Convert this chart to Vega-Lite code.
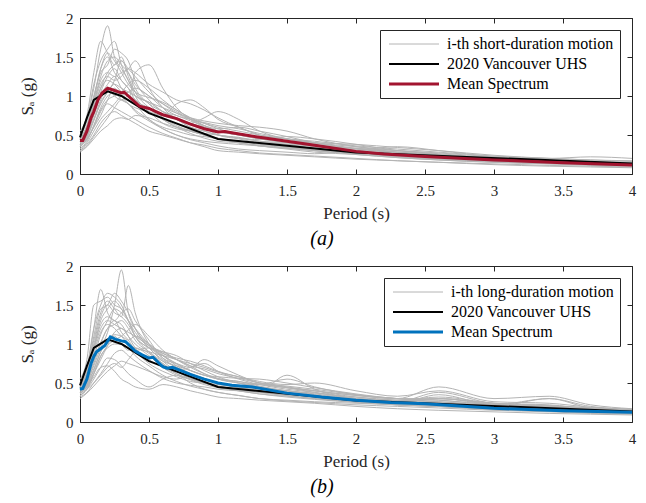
{
"$schema": "https://vega.github.io/schema/vega-lite/v6.json",
"padding": {"left": 17, "top": 10, "right": 8, "bottom": 0},
"background": "white",
"config": {
  "font": "Liberation Serif",
  "view": {"stroke": "#262626", "strokeWidth": 1},
  "style": {"guide-label": {"font": "Liberation Serif"}, "guide-title": {"font": "Liberation Serif"}},
  "axis": {"grid": false, "domain": false, "tickColor": "#262626", "tickSize": -5, "labelFont": "Liberation Serif", "labelFontSize": 15, "labelColor": "#262626", "labelFlush": false, "labelOverlap": false, "format": "~g", "titleFont": "Liberation Serif", "titleFontSize": 17, "titleFontWeight": "normal", "titleColor": "#262626"},
  "legend": {"orient": "top-right", "offset": 12, "padding": 6, "strokeColor": "#262626", "fillColor": "white", "labelFont": "Liberation Serif", "labelFontSize": 16, "labelColor": "#000000", "symbolType": "M-1,0H9", "symbolSize": 100, "labelOffset": 45, "labelLimit": 400, "rowPadding": 4},
  "title": {"font": "Liberation Serif"}
},
"datasets": {
"uhs": [{"T":0,"v":0.47},{"T":0.05,"v":0.72},{"T":0.1,"v":0.95},{"T":0.2,"v":1.06},{"T":0.3,"v":1.0},{"T":0.5,"v":0.78},{"T":1,"v":0.45},{"T":2,"v":0.275},{"T":4,"v":0.135}],
"ma": [{"T":0,"v":0.43},{"T":0.02,"v":0.43},{"T":0.05,"v":0.55},{"T":0.08,"v":0.72},{"T":0.1,"v":0.8},{"T":0.13,"v":0.95},{"T":0.16,"v":1.04},{"T":0.2,"v":1.1},{"T":0.25,"v":1.07},{"T":0.3,"v":1.04},{"T":0.32,"v":1.05},{"T":0.35,"v":1.0},{"T":0.4,"v":0.92},{"T":0.43,"v":0.87},{"T":0.5,"v":0.84},{"T":0.55,"v":0.8},{"T":0.6,"v":0.76},{"T":0.7,"v":0.71},{"T":0.8,"v":0.64},{"T":0.9,"v":0.58},{"T":1,"v":0.54},{"T":1.05,"v":0.545},{"T":1.1,"v":0.53},{"T":1.3,"v":0.47},{"T":1.5,"v":0.42},{"T":1.7,"v":0.37},{"T":2,"v":0.29},{"T":2.2,"v":0.255},{"T":2.5,"v":0.225},{"T":3,"v":0.18},{"T":3.5,"v":0.145},{"T":4,"v":0.115}],
"mb": [{"T":0,"v":0.42},{"T":0.02,"v":0.43},{"T":0.05,"v":0.55},{"T":0.08,"v":0.75},{"T":0.1,"v":0.84},{"T":0.12,"v":0.9},{"T":0.15,"v":0.94},{"T":0.18,"v":0.98},{"T":0.22,"v":1.09},{"T":0.26,"v":1.06},{"T":0.3,"v":1.04},{"T":0.33,"v":1.03},{"T":0.36,"v":0.98},{"T":0.4,"v":0.91},{"T":0.45,"v":0.86},{"T":0.5,"v":0.82},{"T":0.53,"v":0.83},{"T":0.57,"v":0.76},{"T":0.6,"v":0.71},{"T":0.63,"v":0.69},{"T":0.67,"v":0.7},{"T":0.7,"v":0.68},{"T":0.8,"v":0.61},{"T":0.9,"v":0.55},{"T":1,"v":0.5},{"T":1.1,"v":0.47},{"T":1.25,"v":0.45},{"T":1.5,"v":0.37},{"T":1.75,"v":0.32},{"T":2,"v":0.28},{"T":2.25,"v":0.25},{"T":2.5,"v":0.235},{"T":3,"v":0.175},{"T":3.5,"v":0.145},{"T":4,"v":0.125}],
"ga": [
{"g":1,"T":0,"v":0.45},{"g":1,"T":0.05,"v":0.6},{"g":1,"T":0.1,"v":0.95},{"g":1,"T":0.15,"v":1.35},{"g":1,"T":0.2,"v":1.5},{"g":1,"T":0.25,"v":1.3},{"g":1,"T":0.3,"v":1.2},{"g":1,"T":0.35,"v":1.1},{"g":1,"T":0.4,"v":0.95},{"g":1,"T":0.5,"v":0.85},{"g":1,"T":0.6,"v":0.75},{"g":1,"T":0.7,"v":0.7},{"g":1,"T":0.8,"v":0.6},{"g":1,"T":0.9,"v":0.55},{"g":1,"T":1,"v":0.5},{"g":1,"T":1.15,"v":0.47},{"g":1,"T":1.3,"v":0.42},{"g":1,"T":1.5,"v":0.4},{"g":1,"T":1.7,"v":0.35},{"g":1,"T":2,"v":0.3},{"g":1,"T":2.3,"v":0.25},{"g":1,"T":2.6,"v":0.22},{"g":1,"T":3,"v":0.18},{"g":1,"T":3.4,"v":0.15},{"g":1,"T":3.7,"v":0.13},{"g":1,"T":4,"v":0.12},
{"g":2,"T":0,"v":0.38},{"g":2,"T":0.05,"v":0.5},{"g":2,"T":0.1,"v":0.7},{"g":2,"T":0.15,"v":0.9},{"g":2,"T":0.2,"v":1.05},{"g":2,"T":0.25,"v":1.2},{"g":2,"T":0.3,"v":1.45},{"g":2,"T":0.35,"v":1.3},{"g":2,"T":0.4,"v":1.1},{"g":2,"T":0.5,"v":0.9},{"g":2,"T":0.6,"v":0.8},{"g":2,"T":0.7,"v":0.72},{"g":2,"T":0.8,"v":0.65},{"g":2,"T":0.9,"v":0.6},{"g":2,"T":1,"v":0.55},{"g":2,"T":1.15,"v":0.5},{"g":2,"T":1.3,"v":0.45},{"g":2,"T":1.5,"v":0.42},{"g":2,"T":1.7,"v":0.38},{"g":2,"T":2,"v":0.3},{"g":2,"T":2.3,"v":0.26},{"g":2,"T":2.6,"v":0.22},{"g":2,"T":3,"v":0.18},{"g":2,"T":3.4,"v":0.16},{"g":2,"T":3.7,"v":0.14},{"g":2,"T":4,"v":0.12},
{"g":3,"T":0,"v":0.5},{"g":3,"T":0.05,"v":0.7},{"g":3,"T":0.1,"v":1.1},{"g":3,"T":0.15,"v":1.6},{"g":3,"T":0.2,"v":1.9},{"g":3,"T":0.25,"v":1.5},{"g":3,"T":0.3,"v":1.35},{"g":3,"T":0.35,"v":1.2},{"g":3,"T":0.4,"v":1.0},{"g":3,"T":0.5,"v":0.8},{"g":3,"T":0.6,"v":0.7},{"g":3,"T":0.7,"v":0.6},{"g":3,"T":0.8,"v":0.55},{"g":3,"T":0.9,"v":0.5},{"g":3,"T":1,"v":0.45},{"g":3,"T":1.15,"v":0.42},{"g":3,"T":1.3,"v":0.38},{"g":3,"T":1.5,"v":0.35},{"g":3,"T":1.7,"v":0.3},{"g":3,"T":2,"v":0.26},{"g":3,"T":2.3,"v":0.22},{"g":3,"T":2.6,"v":0.2},{"g":3,"T":3,"v":0.17},{"g":3,"T":3.4,"v":0.14},{"g":3,"T":3.7,"v":0.12},{"g":3,"T":4,"v":0.11},
{"g":4,"T":0,"v":0.3},{"g":4,"T":0.05,"v":0.38},{"g":4,"T":0.1,"v":0.5},{"g":4,"T":0.15,"v":0.65},{"g":4,"T":0.2,"v":0.75},{"g":4,"T":0.25,"v":0.8},{"g":4,"T":0.3,"v":0.75},{"g":4,"T":0.35,"v":0.7},{"g":4,"T":0.4,"v":0.65},{"g":4,"T":0.5,"v":0.55},{"g":4,"T":0.6,"v":0.5},{"g":4,"T":0.7,"v":0.45},{"g":4,"T":0.8,"v":0.4},{"g":4,"T":0.9,"v":0.37},{"g":4,"T":1,"v":0.33},{"g":4,"T":1.15,"v":0.3},{"g":4,"T":1.3,"v":0.27},{"g":4,"T":1.5,"v":0.25},{"g":4,"T":1.7,"v":0.23},{"g":4,"T":2,"v":0.2},{"g":4,"T":2.3,"v":0.17},{"g":4,"T":2.6,"v":0.15},{"g":4,"T":3,"v":0.13},{"g":4,"T":3.4,"v":0.11},{"g":4,"T":3.7,"v":0.1},{"g":4,"T":4,"v":0.09},
{"g":5,"T":0,"v":0.42},{"g":5,"T":0.05,"v":0.55},{"g":5,"T":0.1,"v":0.85},{"g":5,"T":0.15,"v":1.1},{"g":5,"T":0.2,"v":1.2},{"g":5,"T":0.25,"v":1.15},{"g":5,"T":0.3,"v":1.05},{"g":5,"T":0.35,"v":0.95},{"g":5,"T":0.4,"v":1.3},{"g":5,"T":0.5,"v":1.4},{"g":5,"T":0.6,"v":1.1},{"g":5,"T":0.7,"v":0.85},{"g":5,"T":0.8,"v":0.7},{"g":5,"T":0.9,"v":0.6},{"g":5,"T":1,"v":0.5},{"g":5,"T":1.15,"v":0.45},{"g":5,"T":1.3,"v":0.4},{"g":5,"T":1.5,"v":0.35},{"g":5,"T":1.7,"v":0.32},{"g":5,"T":2,"v":0.28},{"g":5,"T":2.3,"v":0.25},{"g":5,"T":2.6,"v":0.21},{"g":5,"T":3,"v":0.18},{"g":5,"T":3.4,"v":0.15},{"g":5,"T":3.7,"v":0.13},{"g":5,"T":4,"v":0.12},
{"g":6,"T":0,"v":0.35},{"g":6,"T":0.05,"v":0.45},{"g":6,"T":0.1,"v":0.6},{"g":6,"T":0.15,"v":0.75},{"g":6,"T":0.2,"v":0.95},{"g":6,"T":0.25,"v":1.1},{"g":6,"T":0.3,"v":1.0},{"g":6,"T":0.35,"v":0.9},{"g":6,"T":0.4,"v":0.85},{"g":6,"T":0.5,"v":0.8},{"g":6,"T":0.6,"v":0.75},{"g":6,"T":0.7,"v":0.9},{"g":6,"T":0.8,"v":0.95},{"g":6,"T":0.9,"v":0.85},{"g":6,"T":1,"v":0.7},{"g":6,"T":1.15,"v":0.6},{"g":6,"T":1.3,"v":0.5},{"g":6,"T":1.5,"v":0.45},{"g":6,"T":1.7,"v":0.4},{"g":6,"T":2,"v":0.33},{"g":6,"T":2.3,"v":0.28},{"g":6,"T":2.6,"v":0.24},{"g":6,"T":3,"v":0.2},{"g":6,"T":3.4,"v":0.17},{"g":6,"T":3.7,"v":0.15},{"g":6,"T":4,"v":0.13},
{"g":7,"T":0,"v":0.55},{"g":7,"T":0.05,"v":0.75},{"g":7,"T":0.1,"v":1.3},{"g":7,"T":0.15,"v":1.7},{"g":7,"T":0.2,"v":1.55},{"g":7,"T":0.25,"v":1.4},{"g":7,"T":0.3,"v":1.5},{"g":7,"T":0.35,"v":1.25},{"g":7,"T":0.4,"v":1.05},{"g":7,"T":0.5,"v":0.85},{"g":7,"T":0.6,"v":0.7},{"g":7,"T":0.7,"v":0.6},{"g":7,"T":0.8,"v":0.52},{"g":7,"T":0.9,"v":0.46},{"g":7,"T":1,"v":0.42},{"g":7,"T":1.15,"v":0.4},{"g":7,"T":1.3,"v":0.36},{"g":7,"T":1.5,"v":0.32},{"g":7,"T":1.7,"v":0.28},{"g":7,"T":2,"v":0.25},{"g":7,"T":2.3,"v":0.21},{"g":7,"T":2.6,"v":0.18},{"g":7,"T":3,"v":0.15},{"g":7,"T":3.4,"v":0.13},{"g":7,"T":3.7,"v":0.11},{"g":7,"T":4,"v":0.1},
{"g":8,"T":0,"v":0.4},{"g":8,"T":0.05,"v":0.5},{"g":8,"T":0.1,"v":0.75},{"g":8,"T":0.15,"v":1.0},{"g":8,"T":0.2,"v":1.15},{"g":8,"T":0.25,"v":1.25},{"g":8,"T":0.3,"v":1.1},{"g":8,"T":0.35,"v":1.0},{"g":8,"T":0.4,"v":0.9},{"g":8,"T":0.5,"v":0.7},{"g":8,"T":0.6,"v":0.6},{"g":8,"T":0.7,"v":0.55},{"g":8,"T":0.8,"v":0.5},{"g":8,"T":0.9,"v":0.48},{"g":8,"T":1,"v":0.45},{"g":8,"T":1.15,"v":0.4},{"g":8,"T":1.3,"v":0.36},{"g":8,"T":1.5,"v":0.33},{"g":8,"T":1.7,"v":0.3},{"g":8,"T":2,"v":0.26},{"g":8,"T":2.3,"v":0.23},{"g":8,"T":2.6,"v":0.2},{"g":8,"T":3,"v":0.17},{"g":8,"T":3.4,"v":0.14},{"g":8,"T":3.7,"v":0.12},{"g":8,"T":4,"v":0.11},
{"g":9,"T":0,"v":0.32},{"g":9,"T":0.05,"v":0.4},{"g":9,"T":0.1,"v":0.55},{"g":9,"T":0.15,"v":0.7},{"g":9,"T":0.2,"v":0.8},{"g":9,"T":0.25,"v":0.9},{"g":9,"T":0.3,"v":1.0},{"g":9,"T":0.35,"v":1.05},{"g":9,"T":0.4,"v":1.1},{"g":9,"T":0.5,"v":1.0},{"g":9,"T":0.6,"v":0.85},{"g":9,"T":0.7,"v":0.75},{"g":9,"T":0.8,"v":0.7},{"g":9,"T":0.9,"v":0.65},{"g":9,"T":1,"v":0.6},{"g":9,"T":1.15,"v":0.55},{"g":9,"T":1.3,"v":0.5},{"g":9,"T":1.5,"v":0.45},{"g":9,"T":1.7,"v":0.4},{"g":9,"T":2,"v":0.32},{"g":9,"T":2.3,"v":0.28},{"g":9,"T":2.6,"v":0.25},{"g":9,"T":3,"v":0.2},{"g":9,"T":3.4,"v":0.17},{"g":9,"T":3.7,"v":0.15},{"g":9,"T":4,"v":0.14},
{"g":10,"T":0,"v":0.48},{"g":10,"T":0.05,"v":0.62},{"g":10,"T":0.1,"v":1.0},{"g":10,"T":0.15,"v":1.3},{"g":10,"T":0.2,"v":1.4},{"g":10,"T":0.25,"v":1.6},{"g":10,"T":0.3,"v":1.55},{"g":10,"T":0.35,"v":1.45},{"g":10,"T":0.4,"v":1.2},{"g":10,"T":0.5,"v":0.95},{"g":10,"T":0.6,"v":0.8},{"g":10,"T":0.7,"v":0.7},{"g":10,"T":0.8,"v":0.6},{"g":10,"T":0.9,"v":0.55},{"g":10,"T":1,"v":0.5},{"g":10,"T":1.15,"v":0.46},{"g":10,"T":1.3,"v":0.42},{"g":10,"T":1.5,"v":0.38},{"g":10,"T":1.7,"v":0.33},{"g":10,"T":2,"v":0.28},{"g":10,"T":2.3,"v":0.24},{"g":10,"T":2.6,"v":0.2},{"g":10,"T":3,"v":0.17},{"g":10,"T":3.4,"v":0.15},{"g":10,"T":3.7,"v":0.13},{"g":10,"T":4,"v":0.12},
{"g":11,"T":0,"v":0.36},{"g":11,"T":0.05,"v":0.45},{"g":11,"T":0.1,"v":0.6},{"g":11,"T":0.15,"v":0.8},{"g":11,"T":0.2,"v":0.9},{"g":11,"T":0.25,"v":0.85},{"g":11,"T":0.3,"v":0.8},{"g":11,"T":0.35,"v":0.75},{"g":11,"T":0.4,"v":0.7},{"g":11,"T":0.5,"v":0.6},{"g":11,"T":0.6,"v":0.52},{"g":11,"T":0.7,"v":0.46},{"g":11,"T":0.8,"v":0.4},{"g":11,"T":0.9,"v":0.35},{"g":11,"T":1,"v":0.3},{"g":11,"T":1.15,"v":0.28},{"g":11,"T":1.3,"v":0.26},{"g":11,"T":1.5,"v":0.24},{"g":11,"T":1.7,"v":0.22},{"g":11,"T":2,"v":0.19},{"g":11,"T":2.3,"v":0.17},{"g":11,"T":2.6,"v":0.15},{"g":11,"T":3,"v":0.12},{"g":11,"T":3.4,"v":0.1},{"g":11,"T":3.7,"v":0.09},{"g":11,"T":4,"v":0.08},
{"g":12,"T":0,"v":0.44},{"g":12,"T":0.05,"v":0.58},{"g":12,"T":0.1,"v":0.9},{"g":12,"T":0.15,"v":1.2},{"g":12,"T":0.2,"v":1.3},{"g":12,"T":0.25,"v":1.25},{"g":12,"T":0.3,"v":1.3},{"g":12,"T":0.35,"v":1.35},{"g":12,"T":0.4,"v":1.45},{"g":12,"T":0.5,"v":1.1},{"g":12,"T":0.6,"v":0.85},{"g":12,"T":0.7,"v":0.7},{"g":12,"T":0.8,"v":0.65},{"g":12,"T":0.9,"v":0.72},{"g":12,"T":1,"v":0.8},{"g":12,"T":1.15,"v":0.7},{"g":12,"T":1.3,"v":0.55},{"g":12,"T":1.5,"v":0.45},{"g":12,"T":1.7,"v":0.4},{"g":12,"T":2,"v":0.35},{"g":12,"T":2.3,"v":0.3},{"g":12,"T":2.6,"v":0.26},{"g":12,"T":3,"v":0.21},{"g":12,"T":3.4,"v":0.18},{"g":12,"T":3.7,"v":0.16},{"g":12,"T":4,"v":0.14},
{"g":13,"T":0,"v":0.28},{"g":13,"T":0.05,"v":0.35},{"g":13,"T":0.1,"v":0.45},{"g":13,"T":0.15,"v":0.55},{"g":13,"T":0.2,"v":0.62},{"g":13,"T":0.25,"v":0.7},{"g":13,"T":0.3,"v":0.72},{"g":13,"T":0.35,"v":0.7},{"g":13,"T":0.4,"v":0.75},{"g":13,"T":0.5,"v":0.72},{"g":13,"T":0.6,"v":0.65},{"g":13,"T":0.7,"v":0.6},{"g":13,"T":0.8,"v":0.56},{"g":13,"T":0.9,"v":0.52},{"g":13,"T":1,"v":0.5},{"g":13,"T":1.15,"v":0.46},{"g":13,"T":1.3,"v":0.44},{"g":13,"T":1.5,"v":0.48},{"g":13,"T":1.7,"v":0.45},{"g":13,"T":2,"v":0.38},{"g":13,"T":2.3,"v":0.3},{"g":13,"T":2.6,"v":0.25},{"g":13,"T":3,"v":0.2},{"g":13,"T":3.4,"v":0.17},{"g":13,"T":3.7,"v":0.15},{"g":13,"T":4,"v":0.13},
{"g":14,"T":0,"v":0.5},{"g":14,"T":0.05,"v":0.68},{"g":14,"T":0.1,"v":1.15},{"g":14,"T":0.15,"v":1.45},{"g":14,"T":0.2,"v":1.6},{"g":14,"T":0.25,"v":1.7},{"g":14,"T":0.3,"v":1.4},{"g":14,"T":0.35,"v":1.2},{"g":14,"T":0.4,"v":1.05},{"g":14,"T":0.5,"v":0.9},{"g":14,"T":0.6,"v":0.72},{"g":14,"T":0.7,"v":0.62},{"g":14,"T":0.8,"v":0.55},{"g":14,"T":0.9,"v":0.5},{"g":14,"T":1,"v":0.45},{"g":14,"T":1.15,"v":0.4},{"g":14,"T":1.3,"v":0.37},{"g":14,"T":1.5,"v":0.34},{"g":14,"T":1.7,"v":0.31},{"g":14,"T":2,"v":0.27},{"g":14,"T":2.3,"v":0.23},{"g":14,"T":2.6,"v":0.2},{"g":14,"T":3,"v":0.17},{"g":14,"T":3.4,"v":0.14},{"g":14,"T":3.7,"v":0.12},{"g":14,"T":4,"v":0.11},
{"g":15,"T":0,"v":0.4},{"g":15,"T":0.05,"v":0.52},{"g":15,"T":0.1,"v":0.78},{"g":15,"T":0.15,"v":1.05},{"g":15,"T":0.2,"v":1.25},{"g":15,"T":0.25,"v":1.35},{"g":15,"T":0.3,"v":1.2},{"g":15,"T":0.35,"v":1.1},{"g":15,"T":0.4,"v":1.0},{"g":15,"T":0.5,"v":0.92},{"g":15,"T":0.6,"v":0.8},{"g":15,"T":0.7,"v":0.75},{"g":15,"T":0.8,"v":0.68},{"g":15,"T":0.9,"v":0.62},{"g":15,"T":1,"v":0.58},{"g":15,"T":1.15,"v":0.6},{"g":15,"T":1.3,"v":0.55},{"g":15,"T":1.5,"v":0.48},{"g":15,"T":1.7,"v":0.4},{"g":15,"T":2,"v":0.32},{"g":15,"T":2.3,"v":0.27},{"g":15,"T":2.6,"v":0.23},{"g":15,"T":3,"v":0.19},{"g":15,"T":3.4,"v":0.16},{"g":15,"T":3.7,"v":0.14},{"g":15,"T":4,"v":0.13},
{"g":16,"T":0,"v":0.33},{"g":16,"T":0.05,"v":0.42},{"g":16,"T":0.1,"v":0.62},{"g":16,"T":0.15,"v":0.85},{"g":16,"T":0.2,"v":1.0},{"g":16,"T":0.25,"v":1.05},{"g":16,"T":0.3,"v":0.95},{"g":16,"T":0.35,"v":0.9},{"g":16,"T":0.4,"v":0.8},{"g":16,"T":0.5,"v":0.68},{"g":16,"T":0.6,"v":0.58},{"g":16,"T":0.7,"v":0.5},{"g":16,"T":0.8,"v":0.44},{"g":16,"T":0.9,"v":0.4},{"g":16,"T":1,"v":0.36},{"g":16,"T":1.15,"v":0.32},{"g":16,"T":1.3,"v":0.3},{"g":16,"T":1.5,"v":0.28},{"g":16,"T":1.7,"v":0.26},{"g":16,"T":2,"v":0.3},{"g":16,"T":2.3,"v":0.35},{"g":16,"T":2.6,"v":0.3},{"g":16,"T":3,"v":0.22},{"g":16,"T":3.4,"v":0.18},{"g":16,"T":3.7,"v":0.16},{"g":16,"T":4,"v":0.15},
{"g":17,"T":0,"v":0.46},{"g":17,"T":0.05,"v":0.6},{"g":17,"T":0.1,"v":0.92},{"g":17,"T":0.15,"v":1.25},{"g":17,"T":0.2,"v":1.45},{"g":17,"T":0.25,"v":1.5},{"g":17,"T":0.3,"v":1.4},{"g":17,"T":0.35,"v":1.3},{"g":17,"T":0.4,"v":1.15},{"g":17,"T":0.5,"v":1.0},{"g":17,"T":0.6,"v":0.9},{"g":17,"T":0.7,"v":0.8},{"g":17,"T":0.8,"v":0.7},{"g":17,"T":0.9,"v":0.62},{"g":17,"T":1,"v":0.55},{"g":17,"T":1.15,"v":0.5},{"g":17,"T":1.3,"v":0.45},{"g":17,"T":1.5,"v":0.4},{"g":17,"T":1.7,"v":0.35},{"g":17,"T":2,"v":0.28},{"g":17,"T":2.3,"v":0.22},{"g":17,"T":2.6,"v":0.19},{"g":17,"T":3,"v":0.16},{"g":17,"T":3.4,"v":0.14},{"g":17,"T":3.7,"v":0.12},{"g":17,"T":4,"v":0.11},
{"g":18,"T":0,"v":0.38},{"g":18,"T":0.05,"v":0.48},{"g":18,"T":0.1,"v":0.7},{"g":18,"T":0.15,"v":0.95},{"g":18,"T":0.2,"v":1.1},{"g":18,"T":0.25,"v":1.0},{"g":18,"T":0.3,"v":0.95},{"g":18,"T":0.35,"v":1.0},{"g":18,"T":0.4,"v":0.95},{"g":18,"T":0.5,"v":0.8},{"g":18,"T":0.6,"v":0.65},{"g":18,"T":0.7,"v":0.58},{"g":18,"T":0.8,"v":0.55},{"g":18,"T":0.9,"v":0.5},{"g":18,"T":1,"v":0.46},{"g":18,"T":1.15,"v":0.42},{"g":18,"T":1.3,"v":0.4},{"g":18,"T":1.5,"v":0.38},{"g":18,"T":1.7,"v":0.36},{"g":18,"T":2,"v":0.33},{"g":18,"T":2.3,"v":0.3},{"g":18,"T":2.6,"v":0.27},{"g":18,"T":3,"v":0.22},{"g":18,"T":3.4,"v":0.2},{"g":18,"T":3.7,"v":0.22},{"g":18,"T":4,"v":0.2},
{"g":19,"T":0,"v":0.42},{"g":19,"T":0.05,"v":0.55},{"g":19,"T":0.1,"v":0.8},{"g":19,"T":0.15,"v":1.1},{"g":19,"T":0.2,"v":1.3},{"g":19,"T":0.25,"v":1.4},{"g":19,"T":0.3,"v":1.45},{"g":19,"T":0.35,"v":1.35},{"g":19,"T":0.4,"v":1.25},{"g":19,"T":0.5,"v":1.05},{"g":19,"T":0.6,"v":0.9},{"g":19,"T":0.7,"v":0.78},{"g":19,"T":0.8,"v":0.7},{"g":19,"T":0.9,"v":0.66},{"g":19,"T":1,"v":0.62},{"g":19,"T":1.15,"v":0.58},{"g":19,"T":1.3,"v":0.52},{"g":19,"T":1.5,"v":0.45},{"g":19,"T":1.7,"v":0.38},{"g":19,"T":2,"v":0.3},{"g":19,"T":2.3,"v":0.25},{"g":19,"T":2.6,"v":0.21},{"g":19,"T":3,"v":0.17},{"g":19,"T":3.4,"v":0.15},{"g":19,"T":3.7,"v":0.13},{"g":19,"T":4,"v":0.12},
{"g":20,"T":0,"v":0.37},{"g":20,"T":0.05,"v":0.47},{"g":20,"T":0.1,"v":0.68},{"g":20,"T":0.15,"v":0.92},{"g":20,"T":0.2,"v":1.05},{"g":20,"T":0.25,"v":1.15},{"g":20,"T":0.3,"v":1.1},{"g":20,"T":0.35,"v":1.05},{"g":20,"T":0.4,"v":1.0},{"g":20,"T":0.5,"v":0.92},{"g":20,"T":0.6,"v":0.85},{"g":20,"T":0.7,"v":0.78},{"g":20,"T":0.8,"v":0.72},{"g":20,"T":0.9,"v":0.68},{"g":20,"T":1,"v":0.65},{"g":20,"T":1.15,"v":0.62},{"g":20,"T":1.3,"v":0.6},{"g":20,"T":1.5,"v":0.55},{"g":20,"T":1.7,"v":0.45},{"g":20,"T":2,"v":0.35},{"g":20,"T":2.3,"v":0.28},{"g":20,"T":2.6,"v":0.24},{"g":20,"T":3,"v":0.2},{"g":20,"T":3.4,"v":0.17},{"g":20,"T":3.7,"v":0.15},{"g":20,"T":4,"v":0.14},
{"g":21,"T":0,"v":0.44},{"g":21,"T":0.05,"v":0.58},{"g":21,"T":0.1,"v":0.88},{"g":21,"T":0.15,"v":1.15},{"g":21,"T":0.2,"v":1.25},{"g":21,"T":0.25,"v":1.2},{"g":21,"T":0.3,"v":1.25},{"g":21,"T":0.35,"v":1.35},{"g":21,"T":0.4,"v":1.3},{"g":21,"T":0.5,"v":1.15},{"g":21,"T":0.6,"v":1.05},{"g":21,"T":0.7,"v":0.95},{"g":21,"T":0.8,"v":0.9},{"g":21,"T":0.9,"v":0.82},{"g":21,"T":1,"v":0.72},{"g":21,"T":1.15,"v":0.6},{"g":21,"T":1.3,"v":0.5},{"g":21,"T":1.5,"v":0.42},{"g":21,"T":1.7,"v":0.36},{"g":21,"T":2,"v":0.3},{"g":21,"T":2.3,"v":0.26},{"g":21,"T":2.6,"v":0.22},{"g":21,"T":3,"v":0.19},{"g":21,"T":3.4,"v":0.16},{"g":21,"T":3.7,"v":0.14},{"g":21,"T":4,"v":0.13},
{"g":22,"T":0,"v":0.3},{"g":22,"T":0.05,"v":0.36},{"g":22,"T":0.1,"v":0.48},{"g":22,"T":0.15,"v":0.6},{"g":22,"T":0.2,"v":0.72},{"g":22,"T":0.25,"v":0.85},{"g":22,"T":0.3,"v":0.95},{"g":22,"T":0.35,"v":0.9},{"g":22,"T":0.4,"v":0.82},{"g":22,"T":0.5,"v":0.7},{"g":22,"T":0.6,"v":0.58},{"g":22,"T":0.7,"v":0.5},{"g":22,"T":0.8,"v":0.45},{"g":22,"T":0.9,"v":0.42},{"g":22,"T":1,"v":0.4},{"g":22,"T":1.15,"v":0.38},{"g":22,"T":1.3,"v":0.36},{"g":22,"T":1.5,"v":0.33},{"g":22,"T":1.7,"v":0.3},{"g":22,"T":2,"v":0.25},{"g":22,"T":2.3,"v":0.21},{"g":22,"T":2.6,"v":0.18},{"g":22,"T":3,"v":0.15},{"g":22,"T":3.4,"v":0.13},{"g":22,"T":3.7,"v":0.12},{"g":22,"T":4,"v":0.11},
{"g":23,"T":0,"v":0.47},{"g":23,"T":0.05,"v":0.62},{"g":23,"T":0.1,"v":0.98},{"g":23,"T":0.15,"v":1.35},{"g":23,"T":0.2,"v":1.55},{"g":23,"T":0.25,"v":1.45},{"g":23,"T":0.3,"v":1.3},{"g":23,"T":0.35,"v":1.15},{"g":23,"T":0.4,"v":1.05},{"g":23,"T":0.5,"v":0.98},{"g":23,"T":0.6,"v":0.92},{"g":23,"T":0.7,"v":0.82},{"g":23,"T":0.8,"v":0.72},{"g":23,"T":0.9,"v":0.65},{"g":23,"T":1,"v":0.58},{"g":23,"T":1.15,"v":0.52},{"g":23,"T":1.3,"v":0.48},{"g":23,"T":1.5,"v":0.45},{"g":23,"T":1.7,"v":0.42},{"g":23,"T":2,"v":0.36},{"g":23,"T":2.3,"v":0.32},{"g":23,"T":2.6,"v":0.28},{"g":23,"T":3,"v":0.23},{"g":23,"T":3.4,"v":0.2},{"g":23,"T":3.7,"v":0.18},{"g":23,"T":4,"v":0.16},
{"g":24,"T":0,"v":0.35},{"g":24,"T":0.05,"v":0.44},{"g":24,"T":0.1,"v":0.62},{"g":24,"T":0.15,"v":0.82},{"g":24,"T":0.2,"v":0.95},{"g":24,"T":0.25,"v":1.0},{"g":24,"T":0.3,"v":1.05},{"g":24,"T":0.35,"v":1.15},{"g":24,"T":0.4,"v":1.2},{"g":24,"T":0.5,"v":1.1},{"g":24,"T":0.6,"v":0.95},{"g":24,"T":0.7,"v":0.82},{"g":24,"T":0.8,"v":0.72},{"g":24,"T":0.9,"v":0.62},{"g":24,"T":1,"v":0.55},{"g":24,"T":1.15,"v":0.5},{"g":24,"T":1.3,"v":0.46},{"g":24,"T":1.5,"v":0.42},{"g":24,"T":1.7,"v":0.4},{"g":24,"T":2,"v":0.38},{"g":24,"T":2.3,"v":0.34},{"g":24,"T":2.6,"v":0.3},{"g":24,"T":3,"v":0.24},{"g":24,"T":3.4,"v":0.2},{"g":24,"T":3.7,"v":0.18},{"g":24,"T":4,"v":0.17}
],
"gb": [
{"g":1,"T":0,"v":0.45},{"g":1,"T":0.05,"v":0.65},{"g":1,"T":0.1,"v":1.2},{"g":1,"T":0.15,"v":1.7},{"g":1,"T":0.2,"v":1.4},{"g":1,"T":0.25,"v":1.3},{"g":1,"T":0.3,"v":1.25},{"g":1,"T":0.35,"v":1.1},{"g":1,"T":0.4,"v":0.95},{"g":1,"T":0.5,"v":0.8},{"g":1,"T":0.6,"v":0.7},{"g":1,"T":0.7,"v":0.62},{"g":1,"T":0.8,"v":0.55},{"g":1,"T":0.9,"v":0.5},{"g":1,"T":1,"v":0.46},{"g":1,"T":1.15,"v":0.42},{"g":1,"T":1.3,"v":0.38},{"g":1,"T":1.5,"v":0.34},{"g":1,"T":1.7,"v":0.3},{"g":1,"T":2,"v":0.26},{"g":1,"T":2.3,"v":0.23},{"g":1,"T":2.6,"v":0.2},{"g":1,"T":3,"v":0.17},{"g":1,"T":3.4,"v":0.14},{"g":1,"T":3.7,"v":0.13},{"g":1,"T":4,"v":0.12},
{"g":2,"T":0,"v":0.38},{"g":2,"T":0.05,"v":0.5},{"g":2,"T":0.1,"v":0.72},{"g":2,"T":0.15,"v":0.95},{"g":2,"T":0.2,"v":1.15},{"g":2,"T":0.25,"v":1.5},{"g":2,"T":0.3,"v":1.95},{"g":2,"T":0.35,"v":1.4},{"g":2,"T":0.4,"v":1.2},{"g":2,"T":0.5,"v":0.95},{"g":2,"T":0.6,"v":0.8},{"g":2,"T":0.7,"v":0.7},{"g":2,"T":0.8,"v":0.62},{"g":2,"T":0.9,"v":0.56},{"g":2,"T":1,"v":0.5},{"g":2,"T":1.15,"v":0.46},{"g":2,"T":1.3,"v":0.42},{"g":2,"T":1.5,"v":0.38},{"g":2,"T":1.7,"v":0.34},{"g":2,"T":2,"v":0.28},{"g":2,"T":2.3,"v":0.25},{"g":2,"T":2.6,"v":0.3},{"g":2,"T":3,"v":0.22},{"g":2,"T":3.4,"v":0.2},{"g":2,"T":3.7,"v":0.16},{"g":2,"T":4,"v":0.14},
{"g":3,"T":0,"v":0.5},{"g":3,"T":0.05,"v":0.68},{"g":3,"T":0.1,"v":1.05},{"g":3,"T":0.15,"v":1.4},{"g":3,"T":0.2,"v":1.55},{"g":3,"T":0.25,"v":1.45},{"g":3,"T":0.3,"v":1.35},{"g":3,"T":0.35,"v":1.75},{"g":3,"T":0.4,"v":1.4},{"g":3,"T":0.5,"v":1.0},{"g":3,"T":0.6,"v":0.82},{"g":3,"T":0.7,"v":0.7},{"g":3,"T":0.8,"v":0.6},{"g":3,"T":0.9,"v":0.55},{"g":3,"T":1,"v":0.5},{"g":3,"T":1.15,"v":0.44},{"g":3,"T":1.3,"v":0.4},{"g":3,"T":1.5,"v":0.36},{"g":3,"T":1.7,"v":0.32},{"g":3,"T":2,"v":0.27},{"g":3,"T":2.3,"v":0.24},{"g":3,"T":2.6,"v":0.35},{"g":3,"T":3,"v":0.22},{"g":3,"T":3.4,"v":0.3},{"g":3,"T":3.7,"v":0.18},{"g":3,"T":4,"v":0.15},
{"g":4,"T":0,"v":0.34},{"g":4,"T":0.05,"v":0.42},{"g":4,"T":0.1,"v":0.55},{"g":4,"T":0.15,"v":0.7},{"g":4,"T":0.2,"v":0.82},{"g":4,"T":0.25,"v":0.8},{"g":4,"T":0.3,"v":0.72},{"g":4,"T":0.35,"v":0.62},{"g":4,"T":0.4,"v":0.55},{"g":4,"T":0.5,"v":0.45},{"g":4,"T":0.6,"v":0.55},{"g":4,"T":0.7,"v":0.6},{"g":4,"T":0.8,"v":0.5},{"g":4,"T":0.9,"v":0.42},{"g":4,"T":1,"v":0.38},{"g":4,"T":1.15,"v":0.34},{"g":4,"T":1.3,"v":0.3},{"g":4,"T":1.5,"v":0.27},{"g":4,"T":1.7,"v":0.25},{"g":4,"T":2,"v":0.22},{"g":4,"T":2.3,"v":0.2},{"g":4,"T":2.6,"v":0.18},{"g":4,"T":3,"v":0.15},{"g":4,"T":3.4,"v":0.13},{"g":4,"T":3.7,"v":0.11},{"g":4,"T":4,"v":0.1},
{"g":5,"T":0,"v":0.42},{"g":5,"T":0.05,"v":0.56},{"g":5,"T":0.1,"v":0.88},{"g":5,"T":0.15,"v":1.15},{"g":5,"T":0.2,"v":1.25},{"g":5,"T":0.25,"v":1.2},{"g":5,"T":0.3,"v":1.1},{"g":5,"T":0.35,"v":1.0},{"g":5,"T":0.4,"v":0.95},{"g":5,"T":0.5,"v":0.9},{"g":5,"T":0.6,"v":0.85},{"g":5,"T":0.7,"v":0.8},{"g":5,"T":0.8,"v":0.72},{"g":5,"T":0.9,"v":0.62},{"g":5,"T":1,"v":0.55},{"g":5,"T":1.15,"v":0.5},{"g":5,"T":1.3,"v":0.48},{"g":5,"T":1.5,"v":0.55},{"g":5,"T":1.7,"v":0.45},{"g":5,"T":2,"v":0.35},{"g":5,"T":2.3,"v":0.3},{"g":5,"T":2.6,"v":0.45},{"g":5,"T":3,"v":0.3},{"g":5,"T":3.4,"v":0.33},{"g":5,"T":3.7,"v":0.22},{"g":5,"T":4,"v":0.17},
{"g":6,"T":0,"v":0.36},{"g":6,"T":0.05,"v":0.46},{"g":6,"T":0.1,"v":0.62},{"g":6,"T":0.15,"v":0.8},{"g":6,"T":0.2,"v":0.98},{"g":6,"T":0.25,"v":1.15},{"g":6,"T":0.3,"v":1.2},{"g":6,"T":0.35,"v":1.1},{"g":6,"T":0.4,"v":1.0},{"g":6,"T":0.5,"v":0.88},{"g":6,"T":0.6,"v":0.75},{"g":6,"T":0.7,"v":0.66},{"g":6,"T":0.8,"v":0.7},{"g":6,"T":0.9,"v":0.75},{"g":6,"T":1,"v":0.65},{"g":6,"T":1.15,"v":0.55},{"g":6,"T":1.3,"v":0.48},{"g":6,"T":1.5,"v":0.42},{"g":6,"T":1.7,"v":0.38},{"g":6,"T":2,"v":0.3},{"g":6,"T":2.3,"v":0.26},{"g":6,"T":2.6,"v":0.24},{"g":6,"T":3,"v":0.2},{"g":6,"T":3.4,"v":0.3},{"g":6,"T":3.7,"v":0.2},{"g":6,"T":4,"v":0.16},
{"g":7,"T":0,"v":0.55},{"g":7,"T":0.05,"v":0.8},{"g":7,"T":0.1,"v":1.5},{"g":7,"T":0.15,"v":1.55},{"g":7,"T":0.2,"v":1.6},{"g":7,"T":0.25,"v":1.5},{"g":7,"T":0.3,"v":1.45},{"g":7,"T":0.35,"v":1.3},{"g":7,"T":0.4,"v":1.1},{"g":7,"T":0.5,"v":0.9},{"g":7,"T":0.6,"v":0.75},{"g":7,"T":0.7,"v":0.62},{"g":7,"T":0.8,"v":0.54},{"g":7,"T":0.9,"v":0.48},{"g":7,"T":1,"v":0.44},{"g":7,"T":1.15,"v":0.4},{"g":7,"T":1.3,"v":0.36},{"g":7,"T":1.5,"v":0.33},{"g":7,"T":1.7,"v":0.3},{"g":7,"T":2,"v":0.26},{"g":7,"T":2.3,"v":0.22},{"g":7,"T":2.6,"v":0.2},{"g":7,"T":3,"v":0.17},{"g":7,"T":3.4,"v":0.15},{"g":7,"T":3.7,"v":0.13},{"g":7,"T":4,"v":0.12},
{"g":8,"T":0,"v":0.4},{"g":8,"T":0.05,"v":0.52},{"g":8,"T":0.1,"v":0.78},{"g":8,"T":0.15,"v":1.02},{"g":8,"T":0.2,"v":1.2},{"g":8,"T":0.25,"v":1.3},{"g":8,"T":0.3,"v":1.15},{"g":8,"T":0.35,"v":1.05},{"g":8,"T":0.4,"v":0.92},{"g":8,"T":0.5,"v":0.75},{"g":8,"T":0.6,"v":0.65},{"g":8,"T":0.7,"v":0.58},{"g":8,"T":0.8,"v":0.52},{"g":8,"T":0.9,"v":0.5},{"g":8,"T":1,"v":0.48},{"g":8,"T":1.15,"v":0.44},{"g":8,"T":1.3,"v":0.4},{"g":8,"T":1.5,"v":0.6},{"g":8,"T":1.7,"v":0.42},{"g":8,"T":2,"v":0.3},{"g":8,"T":2.3,"v":0.26},{"g":8,"T":2.6,"v":0.38},{"g":8,"T":3,"v":0.24},{"g":8,"T":3.4,"v":0.22},{"g":8,"T":3.7,"v":0.17},{"g":8,"T":4,"v":0.15},
{"g":9,"T":0,"v":0.33},{"g":9,"T":0.05,"v":0.42},{"g":9,"T":0.1,"v":0.5},{"g":9,"T":0.15,"v":0.6},{"g":9,"T":0.2,"v":0.7},{"g":9,"T":0.25,"v":0.75},{"g":9,"T":0.3,"v":0.7},{"g":9,"T":0.35,"v":0.8},{"g":9,"T":0.4,"v":0.9},{"g":9,"T":0.5,"v":0.95},{"g":9,"T":0.6,"v":0.9},{"g":9,"T":0.7,"v":0.8},{"g":9,"T":0.8,"v":0.72},{"g":9,"T":0.9,"v":0.68},{"g":9,"T":1,"v":0.62},{"g":9,"T":1.15,"v":0.56},{"g":9,"T":1.3,"v":0.5},{"g":9,"T":1.5,"v":0.44},{"g":9,"T":1.7,"v":0.38},{"g":9,"T":2,"v":0.3},{"g":9,"T":2.3,"v":0.26},{"g":9,"T":2.6,"v":0.22},{"g":9,"T":3,"v":0.19},{"g":9,"T":3.4,"v":0.16},{"g":9,"T":3.7,"v":0.14},{"g":9,"T":4,"v":0.13},
{"g":10,"T":0,"v":0.48},{"g":10,"T":0.05,"v":0.64},{"g":10,"T":0.1,"v":1.1},{"g":10,"T":0.15,"v":1.45},{"g":10,"T":0.2,"v":1.5},{"g":10,"T":0.25,"v":1.65},{"g":10,"T":0.3,"v":1.55},{"g":10,"T":0.35,"v":1.4},{"g":10,"T":0.4,"v":1.2},{"g":10,"T":0.5,"v":0.98},{"g":10,"T":0.6,"v":0.85},{"g":10,"T":0.7,"v":0.72},{"g":10,"T":0.8,"v":0.62},{"g":10,"T":0.9,"v":0.56},{"g":10,"T":1,"v":0.5},{"g":10,"T":1.15,"v":0.45},{"g":10,"T":1.3,"v":0.4},{"g":10,"T":1.5,"v":0.36},{"g":10,"T":1.7,"v":0.32},{"g":10,"T":2,"v":0.27},{"g":10,"T":2.3,"v":0.23},{"g":10,"T":2.6,"v":0.21},{"g":10,"T":3,"v":0.18},{"g":10,"T":3.4,"v":0.16},{"g":10,"T":3.7,"v":0.14},{"g":10,"T":4,"v":0.13},
{"g":11,"T":0,"v":0.36},{"g":11,"T":0.05,"v":0.44},{"g":11,"T":0.1,"v":0.58},{"g":11,"T":0.15,"v":0.7},{"g":11,"T":0.2,"v":0.72},{"g":11,"T":0.25,"v":0.65},{"g":11,"T":0.3,"v":0.55},{"g":11,"T":0.35,"v":0.5},{"g":11,"T":0.4,"v":0.45},{"g":11,"T":0.5,"v":0.42},{"g":11,"T":0.6,"v":0.48},{"g":11,"T":0.7,"v":0.45},{"g":11,"T":0.8,"v":0.4},{"g":11,"T":0.9,"v":0.36},{"g":11,"T":1,"v":0.32},{"g":11,"T":1.15,"v":0.3},{"g":11,"T":1.3,"v":0.28},{"g":11,"T":1.5,"v":0.26},{"g":11,"T":1.7,"v":0.24},{"g":11,"T":2,"v":0.2},{"g":11,"T":2.3,"v":0.17},{"g":11,"T":2.6,"v":0.15},{"g":11,"T":3,"v":0.13},{"g":11,"T":3.4,"v":0.11},{"g":11,"T":3.7,"v":0.1},{"g":11,"T":4,"v":0.09},
{"g":12,"T":0,"v":0.44},{"g":12,"T":0.05,"v":0.6},{"g":12,"T":0.1,"v":0.95},{"g":12,"T":0.15,"v":1.25},{"g":12,"T":0.2,"v":1.35},{"g":12,"T":0.25,"v":1.3},{"g":12,"T":0.3,"v":1.4},{"g":12,"T":0.35,"v":1.45},{"g":12,"T":0.4,"v":1.3},{"g":12,"T":0.5,"v":1.05},{"g":12,"T":0.6,"v":0.82},{"g":12,"T":0.7,"v":0.75},{"g":12,"T":0.8,"v":0.7},{"g":12,"T":0.9,"v":0.8},{"g":12,"T":1,"v":0.72},{"g":12,"T":1.15,"v":0.6},{"g":12,"T":1.3,"v":0.5},{"g":12,"T":1.5,"v":0.44},{"g":12,"T":1.7,"v":0.4},{"g":12,"T":2,"v":0.34},{"g":12,"T":2.3,"v":0.3},{"g":12,"T":2.6,"v":0.28},{"g":12,"T":3,"v":0.22},{"g":12,"T":3.4,"v":0.2},{"g":12,"T":3.7,"v":0.17},{"g":12,"T":4,"v":0.15},
{"g":13,"T":0,"v":0.3},{"g":13,"T":0.05,"v":0.37},{"g":13,"T":0.1,"v":0.46},{"g":13,"T":0.15,"v":0.56},{"g":13,"T":0.2,"v":0.65},{"g":13,"T":0.25,"v":0.72},{"g":13,"T":0.3,"v":0.78},{"g":13,"T":0.35,"v":0.75},{"g":13,"T":0.4,"v":0.72},{"g":13,"T":0.5,"v":0.65},{"g":13,"T":0.6,"v":0.58},{"g":13,"T":0.7,"v":0.55},{"g":13,"T":0.8,"v":0.6},{"g":13,"T":0.9,"v":0.55},{"g":13,"T":1,"v":0.5},{"g":13,"T":1.15,"v":0.46},{"g":13,"T":1.3,"v":0.5},{"g":13,"T":1.5,"v":0.45},{"g":13,"T":1.7,"v":0.4},{"g":13,"T":2,"v":0.32},{"g":13,"T":2.3,"v":0.28},{"g":13,"T":2.6,"v":0.32},{"g":13,"T":3,"v":0.24},{"g":13,"T":3.4,"v":0.21},{"g":13,"T":3.7,"v":0.18},{"g":13,"T":4,"v":0.16},
{"g":14,"T":0,"v":0.5},{"g":14,"T":0.05,"v":0.7},{"g":14,"T":0.1,"v":1.2},{"g":14,"T":0.15,"v":1.5},{"g":14,"T":0.2,"v":1.65},{"g":14,"T":0.25,"v":1.6},{"g":14,"T":0.3,"v":1.5},{"g":14,"T":0.35,"v":1.3},{"g":14,"T":0.4,"v":1.15},{"g":14,"T":0.5,"v":0.95},{"g":14,"T":0.6,"v":0.78},{"g":14,"T":0.7,"v":0.65},{"g":14,"T":0.8,"v":0.56},{"g":14,"T":0.9,"v":0.5},{"g":14,"T":1,"v":0.45},{"g":14,"T":1.15,"v":0.4},{"g":14,"T":1.3,"v":0.36},{"g":14,"T":1.5,"v":0.32},{"g":14,"T":1.7,"v":0.29},{"g":14,"T":2,"v":0.25},{"g":14,"T":2.3,"v":0.22},{"g":14,"T":2.6,"v":0.2},{"g":14,"T":3,"v":0.17},{"g":14,"T":3.4,"v":0.15},{"g":14,"T":3.7,"v":0.13},{"g":14,"T":4,"v":0.12},
{"g":15,"T":0,"v":0.4},{"g":15,"T":0.05,"v":0.5},{"g":15,"T":0.1,"v":0.75},{"g":15,"T":0.15,"v":1.0},{"g":15,"T":0.2,"v":1.2},{"g":15,"T":0.25,"v":1.25},{"g":15,"T":0.3,"v":1.3},{"g":15,"T":0.35,"v":1.2},{"g":15,"T":0.4,"v":1.05},{"g":15,"T":0.5,"v":0.9},{"g":15,"T":0.6,"v":0.78},{"g":15,"T":0.7,"v":0.72},{"g":15,"T":0.8,"v":0.66},{"g":15,"T":0.9,"v":0.6},{"g":15,"T":1,"v":0.55},{"g":15,"T":1.15,"v":0.52},{"g":15,"T":1.3,"v":0.46},{"g":15,"T":1.5,"v":0.4},{"g":15,"T":1.7,"v":0.36},{"g":15,"T":2,"v":0.3},{"g":15,"T":2.3,"v":0.27},{"g":15,"T":2.6,"v":0.25},{"g":15,"T":3,"v":0.2},{"g":15,"T":3.4,"v":0.17},{"g":15,"T":3.7,"v":0.15},{"g":15,"T":4,"v":0.14},
{"g":16,"T":0,"v":0.34},{"g":16,"T":0.05,"v":0.42},{"g":16,"T":0.1,"v":0.62},{"g":16,"T":0.15,"v":0.85},{"g":16,"T":0.2,"v":0.95},{"g":16,"T":0.25,"v":1.0},{"g":16,"T":0.3,"v":1.0},{"g":16,"T":0.35,"v":0.95},{"g":16,"T":0.4,"v":0.85},{"g":16,"T":0.5,"v":0.72},{"g":16,"T":0.6,"v":0.6},{"g":16,"T":0.7,"v":0.52},{"g":16,"T":0.8,"v":0.46},{"g":16,"T":0.9,"v":0.42},{"g":16,"T":1,"v":0.38},{"g":16,"T":1.15,"v":0.34},{"g":16,"T":1.3,"v":0.3},{"g":16,"T":1.5,"v":0.28},{"g":16,"T":1.7,"v":0.26},{"g":16,"T":2,"v":0.24},{"g":16,"T":2.3,"v":0.22},{"g":16,"T":2.6,"v":0.2},{"g":16,"T":3,"v":0.16},{"g":16,"T":3.4,"v":0.14},{"g":16,"T":3.7,"v":0.12},{"g":16,"T":4,"v":0.11},
{"g":17,"T":0,"v":0.46},{"g":17,"T":0.05,"v":0.6},{"g":17,"T":0.1,"v":0.95},{"g":17,"T":0.15,"v":1.3},{"g":17,"T":0.2,"v":1.45},{"g":17,"T":0.25,"v":1.55},{"g":17,"T":0.3,"v":1.45},{"g":17,"T":0.35,"v":1.3},{"g":17,"T":0.4,"v":1.1},{"g":17,"T":0.5,"v":0.95},{"g":17,"T":0.6,"v":0.85},{"g":17,"T":0.7,"v":0.75},{"g":17,"T":0.8,"v":0.66},{"g":17,"T":0.9,"v":0.6},{"g":17,"T":1,"v":0.55},{"g":17,"T":1.15,"v":0.5},{"g":17,"T":1.3,"v":0.44},{"g":17,"T":1.5,"v":0.4},{"g":17,"T":1.7,"v":0.35},{"g":17,"T":2,"v":0.28},{"g":17,"T":2.3,"v":0.24},{"g":17,"T":2.6,"v":0.22},{"g":17,"T":3,"v":0.19},{"g":17,"T":3.4,"v":0.17},{"g":17,"T":3.7,"v":0.15},{"g":17,"T":4,"v":0.14},
{"g":18,"T":0,"v":0.38},{"g":18,"T":0.05,"v":0.48},{"g":18,"T":0.1,"v":0.68},{"g":18,"T":0.15,"v":0.9},{"g":18,"T":0.2,"v":1.05},{"g":18,"T":0.25,"v":1.1},{"g":18,"T":0.3,"v":1.0},{"g":18,"T":0.35,"v":0.92},{"g":18,"T":0.4,"v":0.95},{"g":18,"T":0.5,"v":0.85},{"g":18,"T":0.6,"v":0.7},{"g":18,"T":0.7,"v":0.6},{"g":18,"T":0.8,"v":0.55},{"g":18,"T":0.9,"v":0.5},{"g":18,"T":1,"v":0.46},{"g":18,"T":1.15,"v":0.42},{"g":18,"T":1.3,"v":0.4},{"g":18,"T":1.5,"v":0.38},{"g":18,"T":1.7,"v":0.34},{"g":18,"T":2,"v":0.3},{"g":18,"T":2.3,"v":0.27},{"g":18,"T":2.6,"v":0.3},{"g":18,"T":3,"v":0.23},{"g":18,"T":3.4,"v":0.19},{"g":18,"T":3.7,"v":0.17},{"g":18,"T":4,"v":0.15},
{"g":19,"T":0,"v":0.42},{"g":19,"T":0.05,"v":0.56},{"g":19,"T":0.1,"v":0.82},{"g":19,"T":0.15,"v":1.12},{"g":19,"T":0.2,"v":1.3},{"g":19,"T":0.25,"v":1.45},{"g":19,"T":0.3,"v":1.4},{"g":19,"T":0.35,"v":1.3},{"g":19,"T":0.4,"v":1.2},{"g":19,"T":0.5,"v":1.0},{"g":19,"T":0.6,"v":0.88},{"g":19,"T":0.7,"v":0.8},{"g":19,"T":0.8,"v":0.75},{"g":19,"T":0.9,"v":0.7},{"g":19,"T":1,"v":0.64},{"g":19,"T":1.15,"v":0.58},{"g":19,"T":1.3,"v":0.5},{"g":19,"T":1.5,"v":0.46},{"g":19,"T":1.7,"v":0.42},{"g":19,"T":2,"v":0.35},{"g":19,"T":2.3,"v":0.3},{"g":19,"T":2.6,"v":0.26},{"g":19,"T":3,"v":0.21},{"g":19,"T":3.4,"v":0.18},{"g":19,"T":3.7,"v":0.16},{"g":19,"T":4,"v":0.14},
{"g":20,"T":0,"v":0.37},{"g":20,"T":0.05,"v":0.47},{"g":20,"T":0.1,"v":0.66},{"g":20,"T":0.15,"v":0.9},{"g":20,"T":0.2,"v":1.05},{"g":20,"T":0.25,"v":1.12},{"g":20,"T":0.3,"v":1.1},{"g":20,"T":0.35,"v":1.05},{"g":20,"T":0.4,"v":1.1},{"g":20,"T":0.5,"v":1.0},{"g":20,"T":0.6,"v":0.86},{"g":20,"T":0.7,"v":0.74},{"g":20,"T":0.8,"v":0.66},{"g":20,"T":0.9,"v":0.6},{"g":20,"T":1,"v":0.58},{"g":20,"T":1.15,"v":0.56},{"g":20,"T":1.3,"v":0.55},{"g":20,"T":1.5,"v":0.5},{"g":20,"T":1.7,"v":0.44},{"g":20,"T":2,"v":0.36},{"g":20,"T":2.3,"v":0.3},{"g":20,"T":2.6,"v":0.28},{"g":20,"T":3,"v":0.22},{"g":20,"T":3.4,"v":0.19},{"g":20,"T":3.7,"v":0.16},{"g":20,"T":4,"v":0.15},
{"g":21,"T":0,"v":0.44},{"g":21,"T":0.05,"v":0.6},{"g":21,"T":0.1,"v":0.92},{"g":21,"T":0.15,"v":1.2},{"g":21,"T":0.2,"v":1.3},{"g":21,"T":0.25,"v":1.25},{"g":21,"T":0.3,"v":1.2},{"g":21,"T":0.35,"v":1.15},{"g":21,"T":0.4,"v":1.1},{"g":21,"T":0.5,"v":0.98},{"g":21,"T":0.6,"v":0.88},{"g":21,"T":0.7,"v":0.82},{"g":21,"T":0.8,"v":0.78},{"g":21,"T":0.9,"v":0.72},{"g":21,"T":1,"v":0.65},{"g":21,"T":1.15,"v":0.58},{"g":21,"T":1.3,"v":0.52},{"g":21,"T":1.5,"v":0.48},{"g":21,"T":1.7,"v":0.5},{"g":21,"T":2,"v":0.4},{"g":21,"T":2.3,"v":0.33},{"g":21,"T":2.6,"v":0.4},{"g":21,"T":3,"v":0.26},{"g":21,"T":3.4,"v":0.24},{"g":21,"T":3.7,"v":0.19},{"g":21,"T":4,"v":0.16},
{"g":22,"T":0,"v":0.32},{"g":22,"T":0.05,"v":0.38},{"g":22,"T":0.1,"v":0.5},{"g":22,"T":0.15,"v":0.62},{"g":22,"T":0.2,"v":0.75},{"g":22,"T":0.25,"v":0.88},{"g":22,"T":0.3,"v":0.92},{"g":22,"T":0.35,"v":0.85},{"g":22,"T":0.4,"v":0.78},{"g":22,"T":0.5,"v":0.66},{"g":22,"T":0.6,"v":0.56},{"g":22,"T":0.7,"v":0.5},{"g":22,"T":0.8,"v":0.47},{"g":22,"T":0.9,"v":0.45},{"g":22,"T":1,"v":0.42},{"g":22,"T":1.15,"v":0.4},{"g":22,"T":1.3,"v":0.38},{"g":22,"T":1.5,"v":0.34},{"g":22,"T":1.7,"v":0.3},{"g":22,"T":2,"v":0.26},{"g":22,"T":2.3,"v":0.22},{"g":22,"T":2.6,"v":0.2},{"g":22,"T":3,"v":0.16},{"g":22,"T":3.4,"v":0.14},{"g":22,"T":3.7,"v":0.12},{"g":22,"T":4,"v":0.11},
{"g":23,"T":0,"v":0.47},{"g":23,"T":0.05,"v":0.64},{"g":23,"T":0.1,"v":1.0},{"g":23,"T":0.15,"v":1.35},{"g":23,"T":0.2,"v":1.5},{"g":23,"T":0.25,"v":1.4},{"g":23,"T":0.3,"v":1.35},{"g":23,"T":0.35,"v":1.25},{"g":23,"T":0.4,"v":1.1},{"g":23,"T":0.5,"v":0.95},{"g":23,"T":0.6,"v":0.9},{"g":23,"T":0.7,"v":0.85},{"g":23,"T":0.8,"v":0.75},{"g":23,"T":0.9,"v":0.66},{"g":23,"T":1,"v":0.58},{"g":23,"T":1.15,"v":0.5},{"g":23,"T":1.3,"v":0.45},{"g":23,"T":1.5,"v":0.4},{"g":23,"T":1.7,"v":0.37},{"g":23,"T":2,"v":0.32},{"g":23,"T":2.3,"v":0.28},{"g":23,"T":2.6,"v":0.26},{"g":23,"T":3,"v":0.21},{"g":23,"T":3.4,"v":0.19},{"g":23,"T":3.7,"v":0.16},{"g":23,"T":4,"v":0.15},
{"g":24,"T":0,"v":0.36},{"g":24,"T":0.05,"v":0.45},{"g":24,"T":0.1,"v":0.62},{"g":24,"T":0.15,"v":0.84},{"g":24,"T":0.2,"v":0.98},{"g":24,"T":0.25,"v":1.05},{"g":24,"T":0.3,"v":1.1},{"g":24,"T":0.35,"v":1.18},{"g":24,"T":0.4,"v":1.25},{"g":24,"T":0.5,"v":1.1},{"g":24,"T":0.6,"v":0.92},{"g":24,"T":0.7,"v":0.8},{"g":24,"T":0.8,"v":0.7},{"g":24,"T":0.9,"v":0.62},{"g":24,"T":1,"v":0.56},{"g":24,"T":1.15,"v":0.52},{"g":24,"T":1.3,"v":0.48},{"g":24,"T":1.5,"v":0.44},{"g":24,"T":1.7,"v":0.4},{"g":24,"T":2,"v":0.34},{"g":24,"T":2.3,"v":0.3},{"g":24,"T":2.6,"v":0.3},{"g":24,"T":3,"v":0.24},{"g":24,"T":3.4,"v":0.21},{"g":24,"T":3.7,"v":0.18},{"g":24,"T":4,"v":0.16}
]
},
"resolve": {"scale": {"color": "independent", "strokeWidth": "independent"}, "legend": {"color": "independent", "strokeWidth": "independent"}},
"spacing": 8,
"vconcat": [
{
  "width": 552, "height": 156,
  "title": {"text": "(a)", "orient": "bottom", "font": "Liberation Serif", "fontSize": 20, "fontStyle": "italic", "fontWeight": "normal", "color": "#000000", "dx": -34, "offset": 8},
  "resolve": {"axis": {"x": "independent", "y": "independent"}},
  "layer": [
    {"data": {"name": "ga"}, "mark": {"type": "line", "interpolate": "monotone"},
     "encoding": {
       "x": {"field": "T", "type": "quantitative", "scale": {"domain": [0, 4], "nice": false}, "axis": {"orient": "bottom", "title": "Period (s)", "values": [0,0.5,1,1.5,2,2.5,3,3.5,4], "labelPadding": 14, "titlePadding": 7, "labelFont": "Liberation Serif", "titleFont": "Liberation Serif"}},
       "y": {"field": "v", "type": "quantitative", "scale": {"domain": [0, 2], "nice": false}, "axis": {"orient": "left", "title": "Sₐ (g)", "values": [0,0.5,1,1.5,2], "labelPadding": 12, "titlePadding": 18, "labelFont": "Liberation Serif", "titleFont": "Liberation Serif"}},
       "detail": {"field": "g", "type": "nominal"},
       "color": {"datum": "i-th short-duration motion", "type": "nominal", "scale": {"domain": ["i-th short-duration motion", "2020 Vancouver UHS", "Mean Spectrum"], "range": ["#b4b4b4", "#000000", "#a2142f"]}, "legend": {"title": null}},
       "strokeWidth": {"datum": "i-th short-duration motion", "type": "nominal", "scale": {"domain": ["i-th short-duration motion", "2020 Vancouver UHS", "Mean Spectrum"], "range": [1, 3, 3]}, "legend": {"title": null}}
     }},
    {"data": {"name": "uhs"}, "mark": {"type": "line"},
     "encoding": {
       "x": {"field": "T", "type": "quantitative", "axis": {"orient": "top", "labels": false, "title": null, "values": [0,0.5,1,1.5,2,2.5,3,3.5,4]}},
       "y": {"field": "v", "type": "quantitative", "axis": {"orient": "right", "labels": false, "title": null, "values": [0,0.5,1,1.5,2]}},
       "color": {"datum": "2020 Vancouver UHS", "type": "nominal"},
       "strokeWidth": {"datum": "2020 Vancouver UHS", "type": "nominal"}
     }},
    {"data": {"name": "ma"}, "mark": {"type": "line"},
     "encoding": {
       "x": {"field": "T", "type": "quantitative", "axis": null},
       "y": {"field": "v", "type": "quantitative", "axis": null},
       "color": {"datum": "Mean Spectrum", "type": "nominal"},
       "strokeWidth": {"datum": "Mean Spectrum", "type": "nominal"}
     }}
  ]
},
{
  "width": 552, "height": 156,
  "title": {"text": "(b)", "orient": "bottom", "font": "Liberation Serif", "fontSize": 20, "fontStyle": "italic", "fontWeight": "normal", "color": "#000000", "dx": -34, "offset": 8},
  "resolve": {"axis": {"x": "independent", "y": "independent"}},
  "layer": [
    {"data": {"name": "gb"}, "mark": {"type": "line", "interpolate": "monotone"},
     "encoding": {
       "x": {"field": "T", "type": "quantitative", "scale": {"domain": [0, 4], "nice": false}, "axis": {"orient": "bottom", "title": "Period (s)", "values": [0,0.5,1,1.5,2,2.5,3,3.5,4], "labelPadding": 14, "titlePadding": 7, "labelFont": "Liberation Serif", "titleFont": "Liberation Serif"}},
       "y": {"field": "v", "type": "quantitative", "scale": {"domain": [0, 2], "nice": false}, "axis": {"orient": "left", "title": "Sₐ (g)", "values": [0,0.5,1,1.5,2], "labelPadding": 12, "titlePadding": 18, "labelFont": "Liberation Serif", "titleFont": "Liberation Serif"}},
       "detail": {"field": "g", "type": "nominal"},
       "color": {"datum": "i-th long-duration motion", "type": "nominal", "scale": {"domain": ["i-th long-duration motion", "2020 Vancouver UHS", "Mean Spectrum"], "range": ["#b4b4b4", "#000000", "#0072bd"]}, "legend": {"title": null}},
       "strokeWidth": {"datum": "i-th long-duration motion", "type": "nominal", "scale": {"domain": ["i-th long-duration motion", "2020 Vancouver UHS", "Mean Spectrum"], "range": [1, 3, 3]}, "legend": {"title": null}}
     }},
    {"data": {"name": "uhs"}, "mark": {"type": "line"},
     "encoding": {
       "x": {"field": "T", "type": "quantitative", "axis": {"orient": "top", "labels": false, "title": null, "values": [0,0.5,1,1.5,2,2.5,3,3.5,4]}},
       "y": {"field": "v", "type": "quantitative", "axis": {"orient": "right", "labels": false, "title": null, "values": [0,0.5,1,1.5,2]}},
       "color": {"datum": "2020 Vancouver UHS", "type": "nominal"},
       "strokeWidth": {"datum": "2020 Vancouver UHS", "type": "nominal"}
     }},
    {"data": {"name": "mb"}, "mark": {"type": "line"},
     "encoding": {
       "x": {"field": "T", "type": "quantitative", "axis": null},
       "y": {"field": "v", "type": "quantitative", "axis": null},
       "color": {"datum": "Mean Spectrum", "type": "nominal"},
       "strokeWidth": {"datum": "Mean Spectrum", "type": "nominal"}
     }}
  ]
}
]
}
